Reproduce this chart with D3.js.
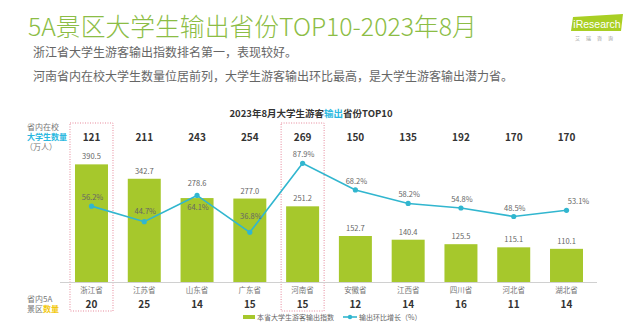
<!DOCTYPE html>
<html><head><meta charset="utf-8">
<script src="https://cdn.jsdelivr.net/npm/d3@7"></script>
<style>
html,body{margin:0;padding:0;background:#fff;}
svg{display:block;font-family:"Noto Sans CJK SC","Noto Sans",sans-serif;}
</style></head>
<body><svg id="c" width="640" height="327"></svg>
<script>
const provinces = ["浙江省","江苏省","山东省","广东省","河南省","安徽省","江西省","四川省","河北省","湖北省"];
const exportIndex = [390.5,342.7,278.6,277.0,251.2,152.7,140.4,125.5,115.1,110.1];
const momGrowth = [56.2,44.7,64.1,36.8,87.9,68.2,58.2,54.8,48.5,53.1];
const students = [121,211,243,254,269,150,135,192,170,170];
const scenicSpots = [20,25,14,15,15,12,14,16,11,14];
const highlighted = ["浙江省","河南省"];

// label placement tweaks (styling only)
const lineLabelDy = {"江苏省":-8,"山东省":15,"广东省":-13};
const lineLabelDx = {"湖北省":12};
const barLabelDy = {"山东省":-12};

const svg = d3.select("#c");
const green = "#a6c82c", cyan = "#31b6cf";

// header
svg.append("text").attr("x",28).attr("y",36).attr("font-size",24.8).attr("font-weight",300)
  .attr("fill","#8cbd45").text("5A景区大学生输出省份TOP10-2023年8月");
svg.append("text").attr("x",33).attr("y",57).attr("font-size",12).attr("fill","#666")
  .text("浙江省大学生游客输出指数排名第一，表现较好。");
svg.append("text").attr("x",33).attr("y",81).attr("font-size",12).attr("fill","#666")
  .text("河南省内在校大学生数量位居前列，大学生游客输出环比最高，是大学生游客输出潜力省。");

// logo
const logo = svg.append("g");
logo.append("path").attr("d","M573,17 L623,14 L621,31 L571,31 Z").attr("fill","#a9cf24");
logo.append("text").attr("x",597).attr("y",28).attr("text-anchor","middle").attr("font-size",10.5)
  .attr("fill","#fff").attr("font-family","Liberation Sans, Arial").text("iResearch");
logo.append("text").attr("x",597).attr("y",40).attr("text-anchor","middle").attr("font-size",5)
  .attr("fill","#999").attr("letter-spacing",6).text("艾瑞咨询");

// chart title
const ct = svg.append("text").attr("x",311).attr("y",117).attr("text-anchor","middle")
  .attr("font-size",9.5).attr("font-weight",700).attr("fill","#333");
ct.append("tspan").text("2023年8月大学生游客");
ct.append("tspan").attr("fill","#2ab8e0").text("输出");
ct.append("tspan").text("省份TOP10");

// scales
const x = d3.scaleBand().domain(provinces).range([65.1,592.9]).paddingInner(0.375).paddingOuter(0.1875);
const yBar = d3.scaleLinear().domain([0,400]).range([282,161.5]);
const yLine = d3.scaleLinear().domain([0,100]).range([282,147]);
const cx = p => x(p) + x.bandwidth()/2;

// highlight boxes
highlighted.forEach(p=>{
  svg.append("rect").attr("x",cx(p)-21.5).attr("y",123).attr("width",43).attr("height",188)
    .attr("fill","none").attr("stroke","#e6889a").attr("stroke-width",1).attr("stroke-dasharray","1,1.5");
});

// axis line
svg.append("line").attr("x1",60).attr("x2",597).attr("y1",282.5).attr("y2",282.5)
  .attr("stroke","#d0d0d0").attr("stroke-width",1);

// bars
svg.selectAll("rect.bar").data(provinces).enter().append("rect").attr("class","bar")
  .attr("x",p=>x(p)).attr("width",x.bandwidth())
  .attr("y",(p,i)=>yBar(exportIndex[i])).attr("height",(p,i)=>yBar(0)-yBar(exportIndex[i]))
  .attr("fill",green);
svg.selectAll("text.bv").data(provinces).enter().append("text").attr("class","bv")
  .attr("x",p=>cx(p)).attr("y",(p,i)=>yBar(exportIndex[i]) + (barLabelDy[p] ?? -5)).attr("text-anchor","middle")
  .attr("font-size",7.5).attr("fill","#666").text((p,i)=>exportIndex[i].toFixed(1));

// line
const line = d3.line().x((d,i)=>cx(provinces[i])).y(d=>yLine(d));
svg.append("path").attr("d",line(momGrowth)).attr("fill","none").attr("stroke",cyan).attr("stroke-width",1.6);
svg.selectAll("circle.pt").data(momGrowth).enter().append("circle").attr("class","pt")
  .attr("cx",(d,i)=>cx(provinces[i])).attr("cy",d=>yLine(d)).attr("r",2.6).attr("fill",cyan);
svg.selectAll("text.lv").data(momGrowth).enter().append("text").attr("class","lv")
  .attr("x",(d,i)=>cx(provinces[i]) + (lineLabelDx[provinces[i]] ?? 1))
  .attr("y",(d,i)=>yLine(d) + (lineLabelDy[provinces[i]] ?? -6))
  .attr("text-anchor","middle").attr("font-size",7.5).attr("fill","#666").text(d=>d.toFixed(1)+"%");

// top row numbers
svg.selectAll("text.st").data(students).enter().append("text").attr("class","st")
  .attr("x",(d,i)=>cx(provinces[i])).attr("y",141).attr("text-anchor","middle")
  .attr("font-size",10).attr("font-weight",700).attr("fill","#333").text(d=>d);

// province names
svg.selectAll("text.pn").data(provinces).enter().append("text").attr("class","pn")
  .attr("x",p=>cx(p)).attr("y",293).attr("text-anchor","middle")
  .attr("font-size",7.5).attr("fill","#777").text(p=>p);

// bottom numbers
svg.selectAll("text.sp").data(scenicSpots).enter().append("text").attr("class","sp")
  .attr("x",(d,i)=>cx(provinces[i])).attr("y",308).attr("text-anchor","middle")
  .attr("font-size",10).attr("font-weight",700).attr("fill","#333").text(d=>d);

// left labels
svg.append("text").attr("x",27).attr("y",130).attr("font-size",8).attr("fill","#777").text("省内在校");
svg.append("text").attr("x",27).attr("y",139.5).attr("font-size",8).attr("font-weight",700).attr("fill","#2ab8e0").text("大学生数量");
svg.append("text").attr("x",25).attr("y",150).attr("font-size",8).attr("fill","#777").text("（万人）");
svg.append("text").attr("x",27).attr("y",302).attr("font-size",8).attr("fill","#777").text("省内5A");
const bl = svg.append("text").attr("x",27).attr("y",311.5).attr("font-size",8).attr("fill","#777");
bl.append("tspan").text("景区");
bl.append("tspan").attr("fill","#f2c80f").attr("font-weight",700).text("数量");

// legend
svg.append("rect").attr("x",243).attr("y",315).attr("width",12).attr("height",4).attr("fill",green);
svg.append("text").attr("x",257).attr("y",319.5).attr("font-size",7).attr("fill","#666").text("本省大学生游客输出指数");
svg.append("line").attr("x1",343).attr("x2",357).attr("y1",317).attr("y2",317).attr("stroke",cyan).attr("stroke-width",1.6);
svg.append("circle").attr("cx",350).attr("cy",317).attr("r",2.2).attr("fill",cyan);
svg.append("text").attr("x",359).attr("y",319.5).attr("font-size",7).attr("fill","#666").text("输出环比增长（%）");
</script></body></html>
